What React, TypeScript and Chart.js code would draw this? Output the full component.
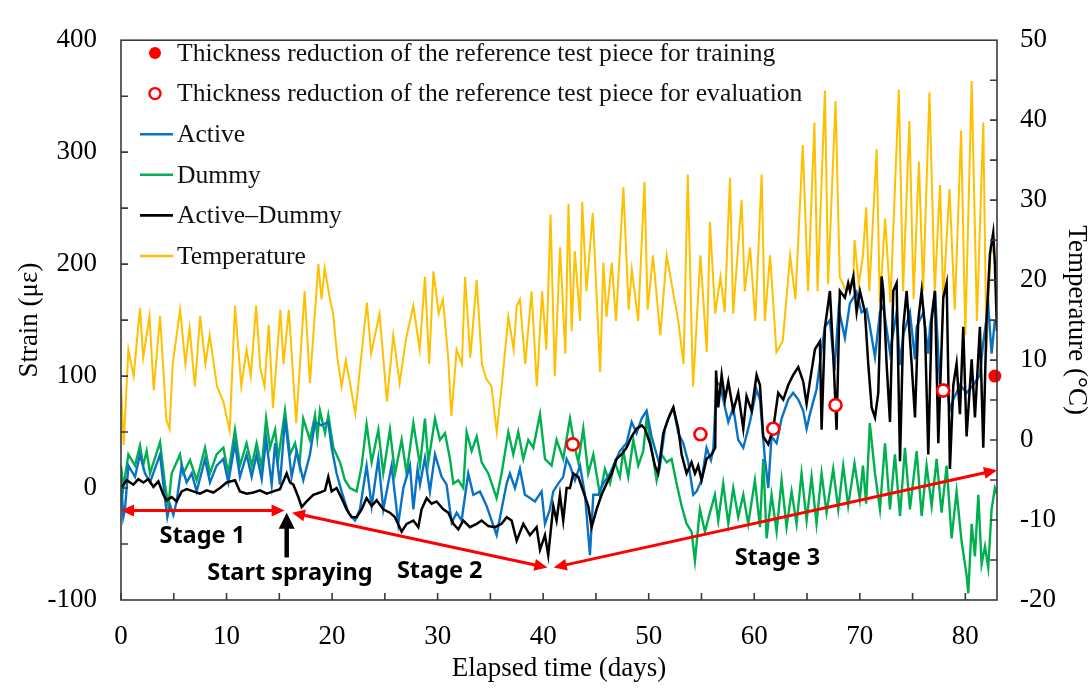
import React, { useEffect, useRef } from "react";
import { Chart, registerables } from "chart.js";

Chart.register(...registerables);

type Pt = [number, number];

// ---------- data (day, value) ----------
const temperature: Pt[] = [
  [0, 7], [0.25, -0.6], [0.7, 11.3], [1.2, 8], [1.8, 16.5], [2.1, 10.3], [2.7, 15.5], [3.1, 6.2], [3.7, 15.5],
  [4.3, 2.5], [4.6, 1.4], [4.9, 9.5], [5.6, 16.3], [6.1, 9.5], [6.5, 14], [7.0, 6.7], [7.5, 15.5], [8.0, 9.5],
  [8.4, 13.1], [9.1, 6.7], [9.7, 4.8], [10.3, 1.2], [10.8, 16.8], [11.4, 6.7], [11.9, 11.3], [12.3, 8],
  [12.8, 16.8], [13.2, 9], [13.6, 6.7], [14.0, 14.4], [14.4, 4], [15.1, 16.3], [15.4, 9.5], [15.9, 16.3],
  [16.6, 2.1], [17.4, 18.6], [17.9, 7.1], [18.7, 22], [19.0, 17.6], [19.3, 21.5], [19.8, 17.6], [20.1, 15.8],
  [20.5, 10.3], [20.9, 6.7], [21.3, 10], [21.7, 7.1], [22.2, 3.3], [22.6, 8.4], [23.3, 17.2], [23.7, 10.8],
  [24.5, 15.8], [25.2, 4.8], [25.8, 13.1], [26.4, 7.1], [27.0, 12.6], [27.7, 16.8], [28.3, 11.3], [28.8, 20.4],
  [29.2, 9.5], [29.6, 21.1], [30.1, 15.8], [30.5, 17.6], [31.0, 10.3], [31.3, 3], [31.8, 11.3], [32.3, 9.5],
  [32.6, 20.4], [33.1, 10.3], [33.7, 20], [34.2, 9.5], [34.6, 7.7], [35.1, 6.7], [35.6, 1], [36.1, 7.1],
  [36.7, 15.4], [37.2, 11.3], [37.5, 16.8], [37.8, 17.6], [38.3, 9.5], [38.9, 18.6], [39.4, 6.7], [39.9, 18.6],
  [40.3, 11.3], [40.7, 28.2], [41.1, 8], [41.6, 24.1], [42.1, 10.8], [42.4, 29.5], [42.7, 13.6], [43.0, 23.6],
  [43.5, 14.9], [43.7, 29.8], [44.1, 18.6], [44.7, 28.4], [45.4, 8.5], [45.7, 22.2], [46.0, 15.4], [46.5, 22.2],
  [46.9, 14.9], [47.6, 31.6], [48.1, 16.3], [48.4, 21.3], [49.0, 14.9], [49.6, 32.3], [49.9, 16.3], [50.4, 23.1],
  [51.1, 13.1], [51.7, 23.1], [52.3, 18.6], [52.8, 14.9], [53.3, 9.5], [53.7, 33.2], [54.2, 6.7], [54.9, 23.1],
  [55.5, 11], [55.8, 27.3], [56.3, 15.8], [56.8, 20.4], [57.2, 16], [57.7, 32.8], [58.0, 15.8], [58.8, 30],
  [59.1, 18.6], [59.6, 24.1], [60.1, 14.9], [60.7, 33.2], [61.0, 14.9], [61.5, 23.1], [62.1, 11], [62.7, 12.4],
  [63.4, 23.1], [63.9, 17.6], [64.6, 36.9], [65.1, 18.6], [65.7, 39.7], [66.0, 18.6], [66.7, 43.7], [67.0, 19.5],
  [67.7, 42.4], [68.1, 20.4], [68.7, 18.6], [69.4, 20.4], [69.5, 25], [69.9, 19.5], [70.3, 23.1], [70.6, 29.1],
  [70.9, 18.6], [71.6, 36.4], [71.9, 17.2], [72.4, 27.7], [72.9, 17.2], [73.7, 43.8], [74.1, 18.6], [74.7, 39.9],
  [75.1, 17.6], [75.6, 34.8], [76.0, 18.6], [76.6, 43.5], [77.1, 18.6], [77.6, 31.9], [77.9, 17.6], [78.5, 31.4],
  [79.0, 16.3], [79.6, 38.7], [80.0, 13.1], [80.6, 44.9], [81.1, 14.9], [81.7, 39.7], [82.0, 11], [82.4, 24.1],
  [82.8, 23.1],
];

const dummy: Pt[] = [
  [0, 20], [0.22, 0], [0.7, 30], [1.33, 20], [1.8, 38], [2.1, 20], [2.43, 33], [2.75, 13], [3.7, 41], [4.17, 3],
  [4.49, -16], [4.8, 13], [5.59, 30], [5.9, 13], [6.54, 25], [7.17, 7], [7.96, 36], [8.43, 13], [9.06, 30],
  [9.7, 36], [10.17, 13], [10.8, 52], [11.27, 20], [11.9, 40], [12.38, 20], [12.85, 40], [13.33, 18], [13.75, 62],
  [14.12, 36], [14.6, 52], [14.9, 26], [15.54, 69], [16.01, 30], [16.49, 40], [16.9, 20], [17.27, 62], [17.9, 43],
  [18.38, 65], [18.6, 45], [18.85, 69], [19.33, 49], [19.64, 65], [20.12, 36], [20.75, 23], [21.22, 7], [21.7, 0],
  [22.33, -3], [22.8, 20], [23.27, 57], [23.75, 23], [24.38, 52], [24.85, 13], [25.48, 52], [25.96, 13],
  [26.59, 43], [27.06, 13], [27.7, 58], [28.33, 20], [28.8, 62], [29.12, 23], [29.75, 62], [30.22, 43],
  [30.7, 49], [31.17, 26], [31.49, 4], [31.96, 7], [32.43, 0], [32.75, 50], [33.22, 33], [33.7, 46], [34.17, 23],
  [34.8, 13], [35.59, -9], [36.06, 13], [36.7, 50], [37.17, 30], [37.64, 50], [38.12, 26], [38.59, 43],
  [39.06, 36], [39.7, 66], [40.17, 26], [40.8, 20], [41.27, 43], [41.9, 26], [42.54, 62], [43.01, 36],
  [43.33, 23], [43.8, 53], [44.27, 13], [44.75, 30], [45.38, -6], [45.85, 17], [46.33, 4], [46.8, 23],
  [47.27, 10], [47.59, 33], [48.06, 10], [48.54, 43], [49.01, 20], [49.48, 33], [49.8, 62], [50.27, 36],
  [50.75, 7], [51.22, 30], [51.7, 23], [52.17, 26], [52.64, 4], [53.12, -16], [53.59, -32], [54.06, -39],
  [54.38, -65], [54.85, -19], [55.33, -39], [55.8, -22], [56.27, -6], [56.59, -29], [57.06, 4], [57.54, -32],
  [58.01, 0], [58.48, -26], [58.96, -6], [59.43, -32], [60.06, 7], [60.54, -35], [60.85, 26], [61.17, -45],
  [61.64, -6], [62.12, -39], [62.59, 7], [63.06, -35], [63.54, -3], [64.01, -32], [64.48, 13], [64.96, -29],
  [65.43, 10], [65.9, -32], [66.38, 13], [66.85, -22], [67.48, 17], [67.96, -19], [68.43, 20], [68.9, -16],
  [69.5, 22], [70.0, -10], [70.3, 20], [70.6, -14], [70.95, 58], [71.44, 13], [71.91, -19], [72.39, 40],
  [72.86, -19], [73.33, 30], [73.81, -25], [74.28, 36], [74.75, -19], [75.39, 33], [75.86, -25], [76.33, 20],
  [76.81, -16], [77.28, 26], [77.75, -22], [78.23, 20], [78.7, -45], [79.17, -3], [79.65, -48], [80.12, -78],
  [80.28, -94], [80.6, -32], [80.91, -61], [81.23, -6], [81.54, -68], [81.86, -52], [82.17, -71], [82.49, -19],
  [82.8, 0], [83, -5],
];

const active: Pt[] = [
  [0, 10], [0.22, -26], [0.38, -19], [0.7, 20], [1.33, 10], [1.8, 30], [2.28, 13], [2.75, 5], [3.7, 30],
  [4.17, -10], [4.39, -26], [4.64, -15], [4.96, -24], [5.27, -12], [5.75, 20], [6.22, 5], [6.7, 13], [7.17, -3],
  [7.96, 26], [8.43, 5], [9.06, 20], [9.7, 26], [10.17, 5], [10.8, 40], [11.27, 10], [11.9, 30], [12.38, 10],
  [12.85, 30], [13.33, 8], [13.75, 44], [14.28, 3], [14.6, 40], [15.06, 3], [15.54, 62], [16.17, 10],
  [16.64, 33], [17.27, 7], [17.9, 30], [18.38, 59], [19.0, 56], [19.64, 59], [19.96, 36], [20.43, 13],
  [20.9, -3], [21.54, -22], [22.17, -29], [22.64, -19], [23.27, 20], [23.75, -16], [24.38, 26], [24.85, -19],
  [25.64, 20], [26.27, -32], [26.75, 0], [27.38, 20], [27.7, -19], [28.1, 17], [28.33, 3], [28.8, 27],
  [29.27, -3], [29.75, 30], [30.38, 10], [30.85, 3], [31.33, -31], [31.8, -22], [32.27, -29], [32.9, 13],
  [33.38, -6], [34.01, -3], [34.64, -16], [35.59, -42], [36.06, -19], [36.54, 4], [36.85, 13], [37.33, 0],
  [37.8, 17], [38.27, -6], [38.75, -9], [39.22, -12], [39.85, -3], [40.17, -32], [40.64, -19], [40.96, -3],
  [41.43, 4], [41.9, 10], [42.22, 26], [42.54, 20], [43.01, 7], [43.49, 20], [43.96, -6], [44.43, -60],
  [44.75, -6], [45.22, -6], [45.69, 4], [46.33, 13], [46.8, 23], [47.27, 33], [47.9, 40], [48.38, 59],
  [48.85, 49], [49.33, 62], [49.8, 69], [50.27, 46], [50.75, 30], [51.06, 20], [51.54, 53], [52.01, 66],
  [52.33, 72], [52.8, 49], [53.27, 40], [53.75, 23], [54.22, -6], [54.54, -3], [55.01, 7], [55.48, 36],
  [55.9, 25], [56.12, 35], [56.43, 95], [56.75, 92], [57.06, 79], [57.54, 59], [58.01, 72], [58.48, 43],
  [58.96, 36], [59.59, 59], [60.22, 88], [60.54, 79], [61.01, 26], [61.33, 0], [61.64, 46], [62.12, 40],
  [62.59, 62], [63.22, 79], [63.69, 85], [64.17, 79], [64.64, 69], [64.96, 53], [65.27, 66], [65.9, 88],
  [66.38, 124], [66.7, 144], [67.17, 150], [67.6, 105], [68.0, 160], [68.59, 134], [69.06, 165], [69.69, 175],
  [70.17, 157], [70.64, 160], [70.96, 144], [71.44, 117], [71.91, 157], [72.23, 163], [72.86, 121],
  [73.49, 157], [73.81, 110], [74.12, 137], [74.75, 157], [75.23, 115], [75.39, 144], [76.02, 157],
  [76.49, 120], [76.65, 144], [77.12, 176], [77.6, 92], [78.23, 92], [78.54, 70], [78.86, 79], [79.49, 92],
  [80.12, 85], [80.75, 92], [81.38, 101], [81.7, 130], [82.17, 163], [82.49, 120], [82.8, 150],
];

const activeMinusDummy: Pt[] = [
  [0, 0], [0.54, 7], [1.17, 3], [1.64, 8], [2.12, 5], [2.59, 8], [3.07, 1], [3.54, 6], [4.01, -6], [4.33, -11],
  [4.8, -8], [5.27, -12], [5.75, -3], [6.22, -1], [6.85, -3], [7.48, -5], [8.12, -2], [8.75, -4], [9.38, 0],
  [10.01, 5], [10.8, 7], [11.27, -3], [11.9, -5], [12.54, -4], [13.17, -2], [13.8, -5], [14.43, -3], [15.06, -1],
  [15.38, 6], [15.7, 13], [16.01, 5], [16.33, 3], [16.8, -8], [17.12, -17], [17.59, -12], [18.22, -6],
  [18.85, -4], [19.33, -2], [19.64, 10], [19.96, -3], [20.43, 0], [20.9, -9], [21.38, -19], [21.85, -26],
  [22.33, -26], [22.8, -19], [23.27, -9], [23.75, -16], [24.22, -11], [24.85, -19], [25.48, -22], [25.96, -26],
  [26.59, -39], [27.06, -32], [27.7, -29], [28.17, -35], [28.48, -19], [28.96, -9], [29.43, -14], [29.9, -12],
  [30.54, -19], [31.01, -22], [31.49, -32], [31.96, -37], [32.43, -29], [33.06, -35], [33.7, -32], [34.17, -29],
  [34.8, -34], [35.43, -35], [36.06, -32], [36.54, -26], [37.01, -29], [37.49, -47], [38.12, -32], [38.75, -42],
  [39.38, -35], [39.7, -55], [40.17, -42], [40.48, -60], [40.96, -16], [41.27, -29], [41.59, -6], [41.9, -29],
  [42.22, 0], [42.54, 0], [42.85, 13], [43.33, 10], [43.8, -3], [44.27, -16], [44.59, -35], [45.06, -19],
  [45.54, -6], [46.01, 4], [46.49, 13], [46.96, 26], [47.43, 30], [47.9, 36], [48.38, 46], [48.85, 53],
  [49.33, 56], [49.64, 53], [50.12, 40], [50.59, 20], [50.9, 13], [51.38, 49], [51.85, 62], [52.33, 72],
  [52.8, 53], [53.12, 30], [53.59, 13], [54.06, 23], [54.38, 13], [54.69, 20], [55.01, 7], [55.48, 26],
  [55.96, 30], [56.3, 36], [56.38, 105], [56.59, 72], [56.91, 101], [57.22, 79], [57.54, 95], [58.01, 69],
  [58.48, 85], [58.96, 53], [59.27, 82], [59.75, 69], [60.22, 101], [60.54, 92], [60.85, 46], [61.33, 39],
  [61.8, 53], [62.27, 85], [62.75, 79], [63.22, 92], [63.69, 101], [64.17, 108], [64.64, 95], [64.96, 75],
  [65.27, 95], [65.75, 124], [66.22, 131], [66.38, 52], [66.7, 144], [67.17, 176], [67.48, 121], [67.8, 52],
  [68.11, 176], [68.59, 170], [68.9, 183], [69.07, 176], [69.39, 189], [69.7, 157], [70.01, 176], [70.49, 157],
  [70.8, 111], [71.12, 72], [71.44, 63], [71.75, 85], [72.07, 189], [72.23, 176], [72.54, 111], [72.86, 59],
  [73.17, 176], [73.49, 183], [73.81, 24], [74.12, 144], [74.44, 176], [74.91, 111], [75.23, 63], [75.54, 150],
  [75.86, 176], [76.17, 144], [76.49, 30], [76.81, 150], [77.12, 176], [77.44, 40], [77.91, 170], [78.23, 183],
  [78.54, 17], [78.86, 92], [79.17, 111], [79.49, 66], [79.8, 144], [80.12, 46], [80.6, 115], [80.91, 63],
  [81.38, 144], [81.7, 36], [82.01, 150], [82.33, 209], [82.64, 228], [82.8, 200], [83, 140],
];

const trainingPoints: Pt[] = [[82.8, 100]];
const evaluationPoints: Pt[] = [[42.8, 39], [54.9, 48], [61.8, 53], [67.7, 74], [77.9, 87]];

// annotation content (data coordinates)
const stageArrows: { from: Pt; to: Pt }[] = [
  { from: [0, -20], to: [15.5, -20] },
  { from: [16.2, -22], to: [40.4, -71] },
  { from: [41.0, -71], to: [83, 16] },
];
const sprayArrow: { from: Pt; to: Pt } = { from: [15.7, -62], to: [15.7, -22] };
const stageLabels: { text: string; at: Pt }[] = [
  { text: "Stage 1", at: [7.7, -43] },
  { text: "Start spraying", at: [16, -76] },
  { text: "Stage 2", at: [30.2, -74] },
  { text: "Stage 3", at: [62.2, -63] },
];

const BLUE = "#0a72c4";
const GREEN = "#00b050";
const BLACK = "#000000";
const YELLOW = "#ffc000";
const RED = "#ff0000";

const legendItems = [
  { kind: "dot", color: RED, text: "Thickness reduction of the reference test piece for training" },
  { kind: "ring", color: RED, text: "Thickness reduction of the reference test piece for evaluation" },
  { kind: "line", color: BLUE, text: "Active" },
  { kind: "line", color: GREEN, text: "Dummy" },
  { kind: "line", color: BLACK, text: "Active\u2013Dummy" },
  { kind: "line", color: YELLOW, text: "Temperature" },
];

const SERIF = "'Liberation Serif', 'Times New Roman', serif";
const SANS = "'Noto Sans', 'DejaVu Sans', sans-serif";
const AXIS_FONT = 27;

const toXY = (pts: Pt[]) => pts.map(([x, y]) => ({ x, y }));

function arrowHead(ctx: CanvasRenderingContext2D, x1: number, y1: number, x2: number, y2: number, len: number, half: number) {
  const a = Math.atan2(y2 - y1, x2 - x1);
  const bx = x2 - len * Math.cos(a);
  const by = y2 - len * Math.sin(a);
  ctx.beginPath();
  ctx.moveTo(x2, y2);
  ctx.lineTo(bx + half * Math.sin(a), by - half * Math.cos(a));
  ctx.lineTo(bx - half * Math.sin(a), by + half * Math.cos(a));
  ctx.closePath();
  ctx.fill();
}

const framePlugin = {
  id: "frameTicks",
  afterDatasetsDraw(chart: any) {
    const { ctx, chartArea: a, scales } = chart;
    ctx.save();
    ctx.strokeStyle = "#3a3a3a";
    ctx.lineWidth = 1.6;
    ctx.strokeRect(a.left, a.top, a.right - a.left, a.bottom - a.top);
    ctx.beginPath();
    for (let d = 0; d <= 80; d += 5) {
      const x = scales.x.getPixelForValue(d);
      ctx.moveTo(x, a.bottom);
      ctx.lineTo(x, a.bottom - 7);
    }
    for (let s = -50; s < 400; s += 50) {
      const y = scales.y.getPixelForValue(s);
      ctx.moveTo(a.left, y);
      ctx.lineTo(a.left + 7, y);
    }
    for (let t = -15; t < 50; t += 5) {
      const y = scales.y2.getPixelForValue(t);
      ctx.moveTo(a.right, y);
      ctx.lineTo(a.right - 7, y);
    }
    ctx.stroke();
    ctx.restore();
  },
};

const annotationPlugin = {
  id: "annotations",
  afterDraw(chart: any) {
    const { ctx, scales } = chart;
    const px = (p: Pt) => [scales.x.getPixelForValue(p[0]), scales.y.getPixelForValue(p[1])];
    ctx.save();
    ctx.strokeStyle = RED;
    ctx.fillStyle = RED;
    ctx.lineWidth = 3;
    for (const ar of stageArrows) {
      const [x1, y1] = px(ar.from);
      const [x2, y2] = px(ar.to);
      const a = Math.atan2(y2 - y1, x2 - x1);
      const L = 10;
      ctx.beginPath();
      ctx.moveTo(x1 + L * Math.cos(a), y1 + L * Math.sin(a));
      ctx.lineTo(x2 - L * Math.cos(a), y2 - L * Math.sin(a));
      ctx.stroke();
      arrowHead(ctx, x1, y1, x2, y2, 13, 6);
      arrowHead(ctx, x2, y2, x1, y1, 13, 6);
    }
    {
      const [x1, y1] = px(sprayArrow.from);
      const [x2, y2] = px(sprayArrow.to);
      ctx.strokeStyle = "#000";
      ctx.fillStyle = "#000";
      ctx.lineWidth = 4.5;
      ctx.beginPath();
      ctx.moveTo(x1, y1);
      ctx.lineTo(x2, y2 + 12);
      ctx.stroke();
      arrowHead(ctx, x1, y1, x2, y2, 16, 8);
    }
    ctx.fillStyle = "#000";
    ctx.font = `bold 23.5px ${SANS}`;
    ctx.textAlign = "center";
    ctx.textBaseline = "middle";
    for (const l of stageLabels) {
      const [x, y] = px(l.at);
      ctx.fillText(l.text, x, y);
    }
    ctx.font = `25.6px ${SERIF}`;
    ctx.textAlign = "left";
    ctx.textBaseline = "middle";
    legendItems.forEach((it, i) => {
      const y = 53 + i * 40.6;
      if (it.kind === "dot") {
        ctx.fillStyle = it.color;
        ctx.beginPath();
        ctx.arc(155, y, 6, 0, Math.PI * 2);
        ctx.fill();
      } else if (it.kind === "ring") {
        ctx.strokeStyle = it.color;
        ctx.lineWidth = 2.4;
        ctx.fillStyle = "#fff";
        ctx.beginPath();
        ctx.arc(155, y, 5.5, 0, Math.PI * 2);
        ctx.fill();
        ctx.stroke();
      } else {
        ctx.strokeStyle = it.color;
        ctx.lineWidth = 2.6;
        ctx.beginPath();
        ctx.moveTo(140, y);
        ctx.lineTo(173, y);
        ctx.stroke();
      }
      ctx.fillStyle = "#111";
      ctx.fillText(it.text, 177, y + 1);
    });
    ctx.restore();
  },
};

export default function App() {
  const ref = useRef<HTMLCanvasElement | null>(null);
  useEffect(() => {
    if (!ref.current) return;
    const lineDs = (label: string, pts: Pt[], color: string, order: number, axis = "y", width = 2) => ({
      type: "line" as const,
      label,
      data: toXY(pts),
      borderColor: color,
      backgroundColor: color,
      borderWidth: width,
      pointRadius: 0,
      tension: 0,
      yAxisID: axis,
      order,
    });
    const chart = new Chart(ref.current, {
      type: "line",
      data: {
        datasets: [
          {
            type: "line",
            label: "evaluation",
            data: toXY(evaluationPoints),
            showLine: false,
            pointRadius: 6,
            pointBorderWidth: 2.6,
            pointBorderColor: RED,
            pointBackgroundColor: "#fff",
            yAxisID: "y",
            order: 0,
          } as any,
          {
            type: "line",
            label: "training",
            data: toXY(trainingPoints),
            showLine: false,
            pointRadius: 6.5,
            pointBorderWidth: 0,
            pointBackgroundColor: RED,
            pointBorderColor: RED,
            yAxisID: "y",
            order: 0,
            clip: false,
          } as any,
          lineDs("Active\u2013Dummy", activeMinusDummy, BLACK, 1, "y", 2.5),
          lineDs("Active", active, BLUE, 2, "y", 2.4),
          lineDs("Dummy", dummy, GREEN, 3, "y", 2.4),
          lineDs("Temperature", temperature, YELLOW, 4, "y2", 2),
        ],
      },
      options: {
        animation: false,
        responsive: false,
        maintainAspectRatio: false,
        devicePixelRatio: 1,
        layout: { padding: { top: 25, left: 0, right: 0, bottom: 0 } },
        plugins: { legend: { display: false }, tooltip: { enabled: false } },
        scales: {
          x: {
            type: "linear",
            min: 0,
            max: 83,
            grid: { display: false, drawTicks: false },
            border: { display: false },
            ticks: {
              stepSize: 10,
              includeBounds: false,
              color: "#000",
              font: { family: SERIF, size: AXIS_FONT },
              padding: 21,
              maxRotation: 0,
            },
            title: {
              display: true,
              text: "Elapsed time (days)",
              color: "#000",
              font: { family: SERIF, size: AXIS_FONT },
              padding: { top: 0, bottom: 6 },
            },
            afterFit: (s: any) => {
              s.height = 91;
            },
          },
          y: {
            type: "linear",
            position: "left",
            min: -100,
            max: 400,
            grid: { display: false, drawTicks: false },
            border: { display: false },
            ticks: { stepSize: 100, color: "#000", font: { family: SERIF, size: AXIS_FONT }, padding: 24 },
            title: {
              display: true,
              text: "Strain (\u03bc\u03b5)",
              color: "#000",
              font: { family: SERIF, size: AXIS_FONT },
              padding: { top: 14, bottom: 0 },
            },
            afterFit: (s: any) => {
              s.width = 121;
            },
          },
          y2: {
            type: "linear",
            position: "right",
            min: -20,
            max: 50,
            grid: { display: false, drawTicks: false },
            border: { display: false },
            ticks: { stepSize: 10, color: "#000", font: { family: SERIF, size: AXIS_FONT }, padding: 23 },
            title: {
              display: true,
              text: "Temperature (\u00b0C)",
              color: "#000",
              font: { family: SERIF, size: AXIS_FONT },
              padding: { top: 0, bottom: 0 },
            },
            afterFit: (s: any) => {
              s.width = 95;
            },
          },
        },
      } as any,
      plugins: [framePlugin, annotationPlugin],
    });
    return () => chart.destroy();
  }, []);
  return (
    <div style={{ position: "absolute", left: 0, top: 0, width: 1092, height: 691, background: "#fff" }}>
      <canvas ref={ref} width={1092} height={691} style={{ width: 1092, height: 691 }} />
    </div>
  );
}
